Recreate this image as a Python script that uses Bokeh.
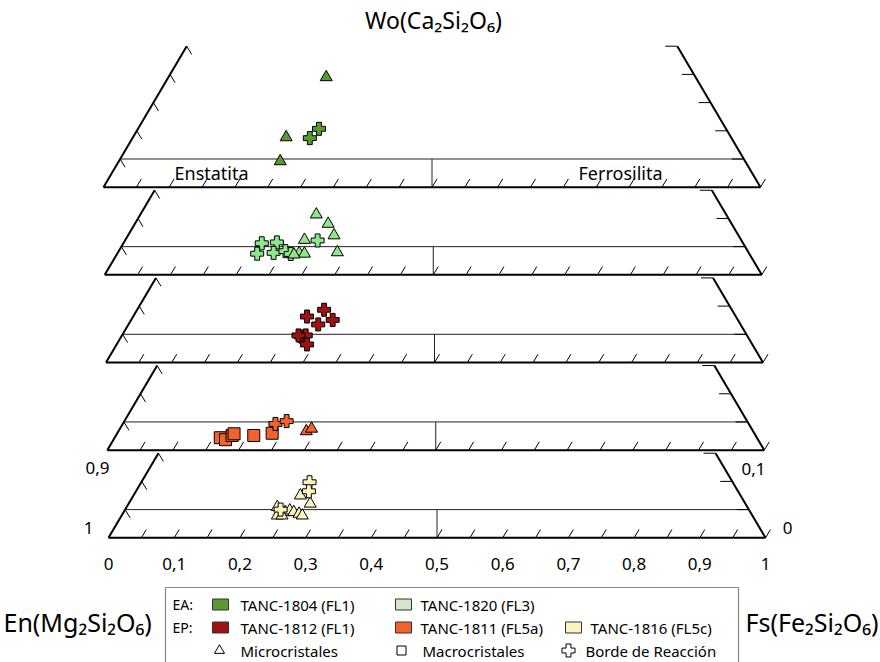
from bokeh.plotting import figure
from bokeh.models import Range1d
from bokeh.embed import file_html
from bokeh.resources import INLINE
from bokeh.core.properties import value

# ---------------- data (Fs fraction along the base, Wo height inside each panel) -------------
# panel 0 : TANC-1804 (EA, FL1)
p0_micro_fs = [0.339, 0.278, 0.269]
p0_micro_wo = [0.390, 0.177, 0.092]
p0_rim_fs = [0.328, 0.314]
p0_rim_wo = [0.207, 0.174]
# panel 1 : TANC-1820 (EA, FL3)
p1_micro_fs = [0.322, 0.340, 0.349, 0.304, 0.354, 0.296, 0.304, 0.288]
p1_micro_wo = [0.214, 0.181, 0.140, 0.124, 0.080, 0.077, 0.075, 0.072]
p1_rim_fs = [0.239, 0.262, 0.324, 0.232, 0.257, 0.275, 0.283]
p1_rim_wo = [0.112, 0.115, 0.122, 0.075, 0.078, 0.084, 0.074]
# panel 2 : TANC-1812 (EP, FL1)
p2_rim_fs = [0.332, 0.306, 0.345, 0.323, 0.297, 0.304, 0.306, 0.293]
p2_rim_wo = [0.187, 0.163, 0.151, 0.135, 0.092, 0.096, 0.064, 0.096]
# panel 3 : TANC-1811 (EP, FL5a)
p3_macro_fs = [0.172, 0.180, 0.190, 0.193, 0.223, 0.251]
p3_macro_wo = [0.044, 0.037, 0.052, 0.058, 0.052, 0.060]
p3_rim_fs = [0.256, 0.273]
p3_rim_wo = [0.093, 0.103]
p3_micro_fs = [0.303, 0.311]
p3_micro_wo = [0.067, 0.076]
# panel 4 : TANC-1816 (EP, FL5c)
p4_micro_fs = [0.292, 0.307, 0.257, 0.262, 0.269, 0.276, 0.282, 0.290, 0.295, 0.257, 0.264]
p4_micro_wo = [0.150, 0.121, 0.109, 0.097, 0.091, 0.097, 0.091, 0.085, 0.079, 0.079, 0.079]
p4_rim_fs = [0.306, 0.305, 0.262]
p4_rim_wo = [0.197, 0.165, 0.100]

x_tick_values = [0, 0.1, 0.2, 0.3, 0.4, 0.5, 0.6, 0.7, 0.8, 0.9, 1.0]
x_tick_labels = ["0", "0,1", "0,2", "0,3", "0,4", "0,5", "0,6", "0,7", "0,8", "0,9", "1"]

panel_tops = [0.5, 0.3, 0.3, 0.3, 0.3]
enst_boundary = 0.1

# ---------------- colours ------------------
C1804 = "#5b9a32"
C1820 = "#8ee88a"
C1820_LEG = "#d3e6cc"
C1812 = "#9e1212"
C1811 = "#f2622f"
C1816 = "#fcf3c0"

FONT = value("Noto Sans")

# ---------------- geometry ------------------
W, H = 880, 662
XS, YS = 657.0, 282.0          # px per data unit
X0PX, Y0PX = 108.0, 537.3      # page position of the bottom panel origin
SL = 0.59 * YS / XS            # slant of trapezoid sides (x units per y unit)
PANEL_STEP = 87.65 / YS
PANEL_SHIFT = 1.25 / XS


def dx(px):
    return (px - X0PX) / XS


def dy(py):
    return (Y0PX - py) / YS


p = figure(width=W, height=H, x_range=Range1d(dx(0), dx(W)), y_range=Range1d(dy(H), dy(0)),
           output_backend="svg", toolbar_location=None, min_border=0,
           x_axis_location=None, y_axis_location=None)
p.grid.visible = False
p.outline_line_color = None
p.background_fill_color = "white"

bases = [(4 - k) * PANEL_STEP for k in range(5)]
offs = [-(4 - k) * PANEL_SHIFT for k in range(5)]

tx = 5.0 / XS
ty = 8.3 / YS
rt = 12.0 / XS

for k in range(5):
    b, o, top = bases[k], offs[k], panel_tops[k]
    # sides
    p.line([o, o + SL * top], [b, b + top], line_color="black", line_width=2)
    p.line([o + 1, o + 1 - SL * top], [b, b + top], line_color="black", line_width=2)
    # base
    p.line([o, o + 1], [b, b], line_color="black", line_width=2)
    # Wo boundary and En/Fs divider
    p.line([o + SL * enst_boundary, o + 1 - SL * enst_boundary], [b + enst_boundary] * 2,
           line_color="#222222", line_width=1)
    p.line([o + 0.5, o + 0.5], [b, b + enst_boundary], line_color="#222222", line_width=1)
    # base ticks
    xs0 = [o + i * 0.05 for i in range(1, 21)]
    p.segment(x0=xs0, y0=[b] * 20, x1=[x + tx for x in xs0], y1=[b + ty] * 20,
              line_color="black", line_width=1)
    # side ticks
    n = int(round(top / 0.1))
    hs = [0.1 * (i + 1) for i in range(n)]
    lx = [o + SL * h for h in hs]
    p.segment(x0=lx, y0=[b + h for h in hs], x1=[x + tx for x in lx], y1=[b + h - ty for h in hs],
              line_color="black", line_width=1)
    rx = [o + 1 - SL * h for h in hs]
    p.segment(x0=rx, y0=[b + h for h in hs], x1=[x - rt for x in rx], y1=[b + h for h in hs],
              line_color="black", line_width=1)


def pts(k, fs, wo):
    return [f + offs[k] for f in fs], [w + bases[k] for w in wo]


def tri(k, fs, wo, col):
    x, y = pts(k, fs, wo)
    p.scatter(x, y, marker="triangle", size=12, fill_color=col, line_color="black", line_width=1)


def sq(k, fs, wo, col):
    x, y = pts(k, fs, wo)
    p.scatter(x, y, marker="square", size=12, fill_color=col, line_color="black", line_width=1)


def rim(k, fs, wo, col):
    x, y = pts(k, fs, wo)
    p.scatter(x, y, marker="plus", size=13, fill_color=col, line_color="black", line_width=1)


tri(0, p0_micro_fs, p0_micro_wo, C1804)
rim(0, p0_rim_fs, p0_rim_wo, C1804)
rim(1, p1_rim_fs, p1_rim_wo, C1820)
tri(1, p1_micro_fs, p1_micro_wo, C1820)
rim(2, p2_rim_fs, p2_rim_wo, C1812)
sq(3, p3_macro_fs, p3_macro_wo, C1811)
rim(3, p3_rim_fs, p3_rim_wo, C1811)
tri(3, p3_micro_fs, p3_micro_wo, C1811)
tri(4, p4_micro_fs, p4_micro_wo, C1816)
rim(4, p4_rim_fs, p4_rim_wo, C1816)

# ---------------- texts ------------------
p.text([dx(433)], [dy(19)], text=["Wo(Ca₂Si₂O₆)"], text_font=FONT, text_font_size="23px",
       text_align="center", text_baseline="middle", text_color="black")
p.text([dx(174)], [dy(172)], text=["Enstatita"], text_font=FONT, text_font_size="18px",
       text_align="left", text_baseline="middle")
p.text([dx(578)], [dy(172)], text=["Ferrosilita"], text_font=FONT, text_font_size="18px",
       text_align="left", text_baseline="middle")
p.text(x_tick_values, [dy(563)] * len(x_tick_values), text=x_tick_labels, text_font=FONT,
       text_font_size="17px", text_align="center", text_baseline="middle")
p.text([dx(97), dx(88)], [dy(467), dy(527)], text=["0,9", "1"], text_font=FONT, text_font_size="17px",
       text_align="center", text_baseline="middle")
p.text([dx(753), dx(787)], [dy(468), dy(527)], text=["0,1", "0"], text_font=FONT, text_font_size="17px",
       text_align="center", text_baseline="middle")
p.text([dx(3)], [dy(621)], text=["En(Mg₂Si₂O₆)"], text_font=FONT, text_font_size="25px",
       text_align="left", text_baseline="middle")
p.text([dx(878)], [dy(621)], text=["Fs(Fe₂Si₂O₆)"], text_font=FONT, text_font_size="25px",
       text_align="right", text_baseline="middle")

# ---------------- legend ------------------
p.quad(left=[dx(165)], right=[dx(738)], top=[dy(587)], bottom=[dy(675)], fill_color="white",
       line_color="#888888", line_width=1.2)
r1, r2, r3 = dy(604), dy(627), dy(650)
p.text([dx(172), dx(172)], [r1, r2], text=["EA:", "EP:"], text_font=FONT, text_font_size="14px",
       text_baseline="middle")
sw_x = [dx(220), dx(403), dx(220), dx(403), dx(573)]
sw_y = [r1, r1, r2, r2, r2]
sw_c = [C1804, C1820_LEG, C1812, C1811, C1816]
p.rect(sw_x, sw_y, width=16, height=11, width_units="screen", height_units="screen",
       fill_color=sw_c, line_color="#333333", line_width=1)
p.text([dx(240), dx(420), dx(240), dx(420), dx(590)], sw_y,
       text=["TANC-1804 (FL1)", "TANC-1820 (FL3)", "TANC-1812 (FL1)", "TANC-1811 (FL5a)", "TANC-1816 (FL5c)"],
       text_font=FONT, text_font_size="15px", text_baseline="middle")
p.scatter([dx(219)], [r3], marker="triangle", size=10, fill_color="white", line_color="black", line_width=1)
p.scatter([dx(401)], [r3], marker="square", size=9, fill_color="white", line_color="black", line_width=1)
p.scatter([dx(568)], [r3], marker="plus", size=13, fill_color="white", line_color="black", line_width=1)
p.text([dx(240), dx(422), dx(585)], [r3] * 3, text=["Microcristales", "Macrocristales", "Borde de Reacción"],
       text_font=FONT, text_font_size="15px", text_baseline="middle")

open("out.html", "w").write(file_html(p, INLINE))
